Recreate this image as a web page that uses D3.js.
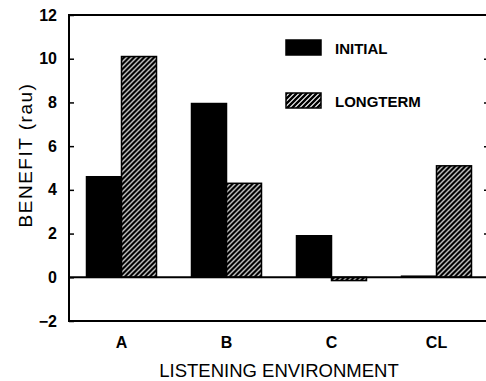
<!DOCTYPE html>
<html>
<head>
<meta charset="utf-8">
<script src="https://cdn.jsdelivr.net/npm/d3@7"></script>
<style>
  html, body { margin: 0; padding: 0; background: #fff; }
  svg { display: block; }
  text { font-family: "Liberation Sans", Arial, Helvetica, sans-serif; fill: #000; }
</style>
</head>
<body>
<svg id="chart" width="486" height="381"></svg>
<script>
const categories = ["A", "B", "C", "CL"];
const seriesNames = ["INITIAL", "LONGTERM"];
const initialValues = [4.6, 7.95, 1.9, 0.05];
const longtermValues = [10.1, 4.3, -0.15, 5.1];
const yTicks = [-2, 0, 2, 4, 6, 8, 10, 12];
const rightTicks = [2, 4, 6, 8, 10];
const yTitle = "BENEFIT (rau)";
const xTitle = "LISTENING ENVIRONMENT";

const W = 486, H = 381;
const m = { left: 69, top: 15, right: 489, bottom: 321 };

const svg = d3.select("#chart");

const defs = svg.append("defs");
const pat = defs.append("pattern")
  .attr("id", "hatch").attr("patternUnits", "userSpaceOnUse")
  .attr("width", 5).attr("height", 5);
pat.append("rect").attr("width", 5).attr("height", 5).attr("fill", "#fff");
pat.append("path")
  .attr("d", "M-1,1 l2,-2 M0,5 l5,-5 M4,6 l2,-2")
  .attr("stroke", "#000").attr("stroke-width", 2.4).attr("stroke-linecap", "square");

const y = d3.scaleLinear().domain([-2, 12]).range([m.bottom, m.top]);
const x = d3.scaleBand().domain(categories).range([m.left, m.right])
  .paddingInner(1/3).paddingOuter(1/6);
const x1 = d3.scaleBand().domain(seriesNames).range([0, x.bandwidth()]).padding(0);

const data = categories.map((c, i) => ({
  cat: c,
  vals: [
    { s: "INITIAL", v: initialValues[i] },
    { s: "LONGTERM", v: longtermValues[i] }
  ]
}));

// bars
const g = svg.append("g").selectAll("g").data(data).join("g")
  .attr("transform", d => `translate(${x(d.cat)},0)`);
g.selectAll("rect").data(d => d.vals).join("rect")
  .attr("x", d => x1(d.s))
  .attr("width", x1.bandwidth())
  .attr("y", d => y(Math.max(0, d.v)))
  .attr("height", d => Math.max(1, Math.abs(y(d.v) - y(0))))
  .attr("fill", d => d.s === "INITIAL" ? "#000" : "url(#hatch)")
  .attr("stroke", "#000").attr("stroke-width", 1.5);

// zero line
svg.append("line")
  .attr("x1", m.left).attr("x2", m.right)
  .attr("y1", y(0)).attr("y2", y(0))
  .attr("stroke", "#000").attr("stroke-width", 2);

// frame
svg.append("rect")
  .attr("x", m.left).attr("y", m.top)
  .attr("width", m.right - m.left).attr("height", m.bottom - m.top)
  .attr("fill", "none").attr("stroke", "#000").attr("stroke-width", 2);

// left axis
const yAxis = d3.axisLeft(y).tickValues(yTicks).tickSizeInner(-5).tickSizeOuter(0).tickPadding(12);
const ya = svg.append("g").attr("transform", `translate(${m.left},0)`).call(yAxis);
ya.select(".domain").remove();
ya.selectAll("line").attr("stroke-width", 1.5);
ya.selectAll("text").attr("font-size", 16).attr("font-weight", "bold")
  .attr("font-family", "'Liberation Sans', Arial, sans-serif").attr("fill", "#000");

// right axis ticks
const rAxis = d3.axisRight(y).tickValues(rightTicks).tickSizeInner(-5).tickSizeOuter(0).tickFormat("");
const ra = svg.append("g").attr("transform", `translate(${m.right},0)`).call(rAxis);
ra.select(".domain").remove();
ra.selectAll("line").attr("stroke-width", 1.5);

// x axis labels
const xAxis = d3.axisBottom(x).tickSize(0).tickPadding(16);
const xa = svg.append("g").attr("transform", `translate(0,${m.bottom})`).call(xAxis);
xa.select(".domain").remove();
xa.selectAll("text").attr("font-size", 16).attr("font-weight", "bold")
  .attr("font-family", "'Liberation Sans', Arial, sans-serif").attr("fill", "#000");

// titles
svg.append("text")
  .attr("x", 279).attr("y", 377)
  .attr("text-anchor", "middle").attr("font-size", 18.5)
  .text(xTitle);
svg.append("text")
  .attr("transform", "translate(32,155) rotate(-90)")
  .attr("text-anchor", "middle").attr("font-size", 19)
  .attr("letter-spacing", 1.5)
  .text(yTitle);

// legend
const leg = svg.append("g");
const legRows = [
  { s: "INITIAL", fill: "#000", y: 40 },
  { s: "LONGTERM", fill: "url(#hatch)", y: 93 }
];
legRows.forEach(r => {
  leg.append("rect").attr("x", 286).attr("y", r.y).attr("width", 35).attr("height", 15)
    .attr("fill", r.fill).attr("stroke", "#000").attr("stroke-width", 1.5);
  leg.append("text").attr("x", 335).attr("y", r.y + 14)
    .attr("font-size", 15).attr("font-weight", "bold").text(r.s);
});
</script>
</body>
</html>
